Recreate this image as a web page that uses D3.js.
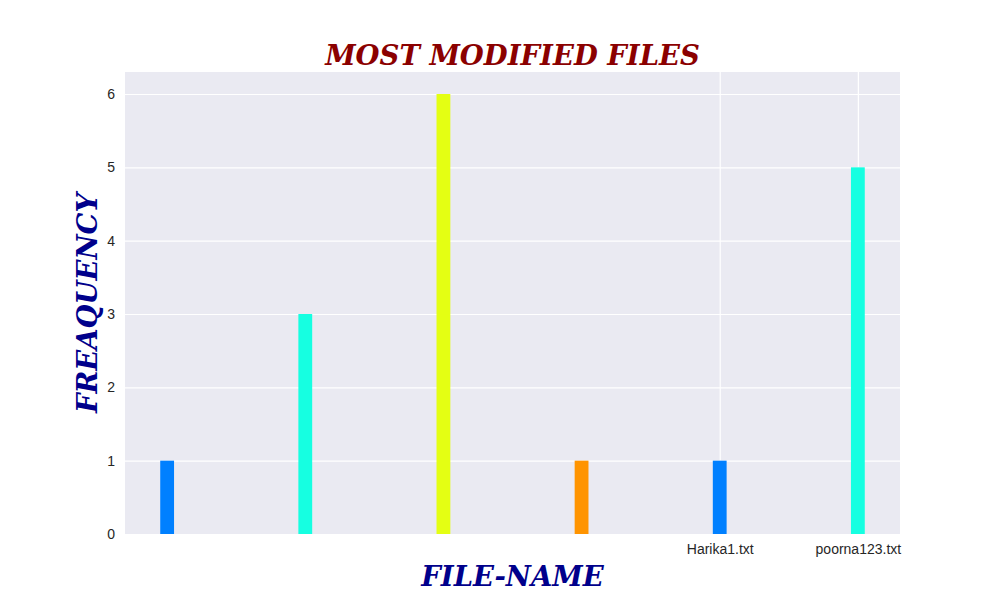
<!DOCTYPE html>
<html>
<head>
<meta charset="utf-8">
<script src="https://cdn.jsdelivr.net/npm/d3@7"></script>
<style>
	body { margin: 0; background: #fff; }
	.grid line { stroke: #fff; stroke-width: 1.2; }
	.grid path { display: none; }
</style>
</head>
<body>
<svg id="svg_main" width="1000" height="600"></svg>
<script>
// file names (only the last two carry a label in the picture)
var files = ["", "", "", "", "Harika1.txt", "poorna123.txt"];
var counts = [1, 3, 6, 1, 1, 5];
var colors = ["#0080ff", "#16ffe1", "#e4ff13", "#ff9400", "#0080ff", "#16ffe1"];
var yTicks = [0, 1, 2, 3, 4, 5, 6];

var margin = { top: 72, right: 100, bottom: 66, left: 125 };

function main() {
	var svg = d3.select("#svg_main");
	var width = 1000 - margin.left - margin.right,
		height = 600 - margin.top - margin.bottom;

	var g = svg.append("g")
		.attr("transform", `translate(${margin.left}, ${margin.top})`);

	var barW = 0.1;
	var x = d3.scaleLinear()
		.domain([-0.305, files.length - 1 + 0.305])
		.range([0, width]);
	var y = d3.scaleLinear().domain([0, 6.3]).range([height, 0]);

	g.append("rect")
		.attr("width", width)
		.attr("height", height)
		.attr("fill", "#eaeaf2");

	// horizontal grid
	g.append("g")
		.attr("class", "grid")
		.call(d3.axisLeft(y).tickValues(yTicks).tickSize(-width).tickFormat(""));

	// vertical grid only where a label exists
	var labelled = files.map((f, i) => i).filter(i => files[i] != "");
	g.append("g")
		.attr("class", "grid")
		.attr("transform", `translate(0, ${height})`)
		.call(d3.axisBottom(x).tickValues(labelled).tickSize(-height).tickFormat(""));

	g.selectAll(".bar")
		.data(counts)
		.enter().append("rect")
		.attr("class", "bar")
		.attr("x", (d, i) => x(i - barW / 2))
		.attr("width", (d, i) => x(i + barW / 2) - x(i - barW / 2))
		.attr("y", d => y(d))
		.attr("height", d => height - y(d))
		.attr("fill", (d, i) => colors[i]);

	var yAxis = g.append("g")
		.call(d3.axisLeft(y).tickValues(yTicks).tickSize(0).tickPadding(10)
			.tickFormat(d3.format("d")));
	yAxis.select(".domain").remove();

	var xAxis = g.append("g")
		.attr("transform", `translate(0, ${height})`)
		.call(d3.axisBottom(x).tickValues(labelled).tickSize(0).tickPadding(10)
			.tickFormat(i => files[i]));
	xAxis.select(".domain").remove();

	svg.selectAll(".tick text")
		.attr("font-family", "Liberation Sans, Arial, sans-serif")
		.attr("font-size", "14px")
		.attr("fill", "#262626");

	var serif = "DejaVu Serif, serif";
	svg.append("text")
		.attr("x", margin.left + width / 2)
		.attr("y", 65)
		.attr("text-anchor", "middle")
		.attr("font-family", serif)
		.attr("font-weight", "bold")
		.attr("font-style", "italic")
		.attr("font-size", "27.5px")
		.attr("fill", "#8b0000")
		.text("MOST MODIFIED FILES");

	svg.append("text")
		.attr("x", margin.left + width / 2)
		.attr("y", 586)
		.attr("text-anchor", "middle")
		.attr("font-family", serif)
		.attr("font-weight", "bold")
		.attr("font-style", "italic")
		.attr("font-size", "27.5px")
		.attr("fill", "#00008b")
		.text("FILE-NAME");

	svg.append("text")
		.attr("transform", `translate(97, ${margin.top + height / 2}) rotate(-90)`)
		.attr("text-anchor", "middle")
		.attr("font-family", serif)
		.attr("font-weight", "bold")
		.attr("font-style", "italic")
		.attr("font-size", "27.5px")
		.attr("fill", "#00008b")
		.text("FREAQUENCY");
}

main();
</script>
</body>
</html>
